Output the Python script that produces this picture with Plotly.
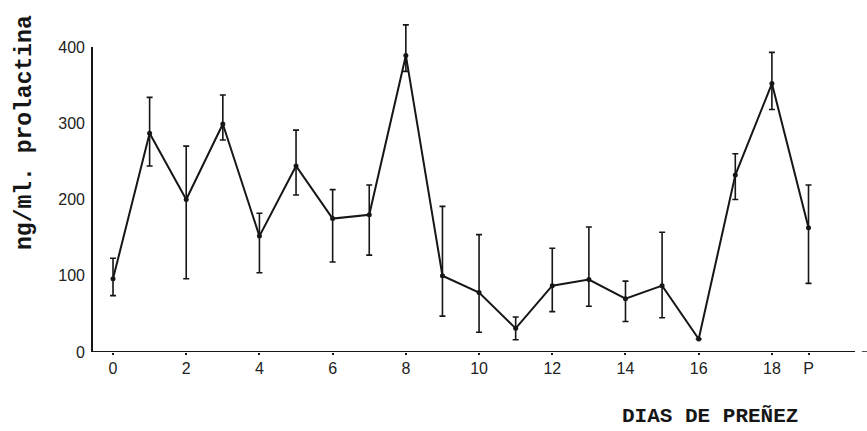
import plotly.graph_objects as go

# Days of pregnancy (categories) and prolactin values (ng/ml)
days = ["0", "1", "2", "3", "4", "5", "6", "7", "8", "9",
        "10", "11", "12", "13", "14", "15", "16", "17", "18", "P"]
mean_vals = [96, 287, 200, 299, 152, 244, 175, 180, 389, 100,
             78, 31, 87, 95, 70, 87, 17, 232, 352, 163]
upper_vals = [123, 334, 270, 337, 182, 291, 213, 219, 429, 191,
              154, 46, 136, 164, 93, 157, None, 260, 393, 219]
lower_vals = [74, 244, 96, 278, 104, 206, 118, 127, 368, 47,
              26, 16, 53, 60, 40, 45, None, 200, 318, 90]

x_tick_labels = ["0", "2", "4", "6", "8", "10", "12", "14", "16", "18", "P"]
y_tick_vals = [0, 100, 200, 300, 400]

err_plus = [None if u is None else u - m for u, m in zip(upper_vals, mean_vals)]
err_minus = [None if l is None else m - l for l, m in zip(lower_vals, mean_vals)]

ink = "#161616"

fig = go.Figure()
fig.add_trace(go.Scatter(
    x=days, y=mean_vals, mode="lines+markers",
    line=dict(color=ink, width=2),
    marker=dict(size=5, color=ink),
    error_y=dict(type="data", symmetric=False, array=err_plus,
                 arrayminus=err_minus, color=ink, thickness=1.6, width=3),
    showlegend=False, hoverinfo="skip",
))

# y axis line only from 0 to 400, as in the original drawing
fig.add_shape(type="line", xref="paper", yref="y", x0=0, x1=0, y0=0, y1=400,
              line=dict(color=ink, width=2))
# x axis line
fig.add_shape(type="line", xref="paper", yref="y", x0=0, x1=1, y0=0, y1=0,
              line=dict(color=ink, width=2))
fig.add_shape(type="line", xref="paper", yref="y", x0=1.009, x1=1.016, y0=0, y1=0,
              line=dict(color=ink, width=1.5))

mono = "Liberation Mono"
fig.add_annotation(text="<b>ng/ml. prolactina</b>", textangle=-90,
                   xref="paper", yref="paper", x=0, xshift=-67, y=0.65,
                   xanchor="center", yanchor="middle", showarrow=False,
                   font=dict(family=mono, size=23, color=ink))
fig.add_annotation(text="<b>DIAS DE PREÑEZ</b>",
                   xref="paper", yref="paper", x=0.81, y=-0.19,
                   xanchor="center", yanchor="middle", showarrow=False,
                   font=dict(family=mono, size=21, color=ink))

tick_font = dict(family="Liberation Sans", size=16, color="#222")

fig.update_layout(
    width=867, height=431,
    margin=dict(l=92, r=12, t=15, b=79),
    paper_bgcolor="white", plot_bgcolor="white",
    xaxis=dict(type="category", categoryorder="array", categoryarray=days,
               range=[-0.574, 20.27], tickmode="array",
               tickvals=x_tick_labels, ticktext=x_tick_labels,
               showgrid=False, zeroline=False, showline=False,
               ticks="outside", ticklen=2, tickcolor=ink, tickwidth=2,
               tickfont=tick_font, fixedrange=True),
    yaxis=dict(range=[0, 442], tickmode="array", tickvals=y_tick_vals,
               ticktext=[str(v) for v in y_tick_vals],
               showgrid=False, zeroline=False, showline=False,
               ticks="", ticklabelstandoff=6,
               tickfont=tick_font, fixedrange=True),
)

fig.write_html("out.html")
